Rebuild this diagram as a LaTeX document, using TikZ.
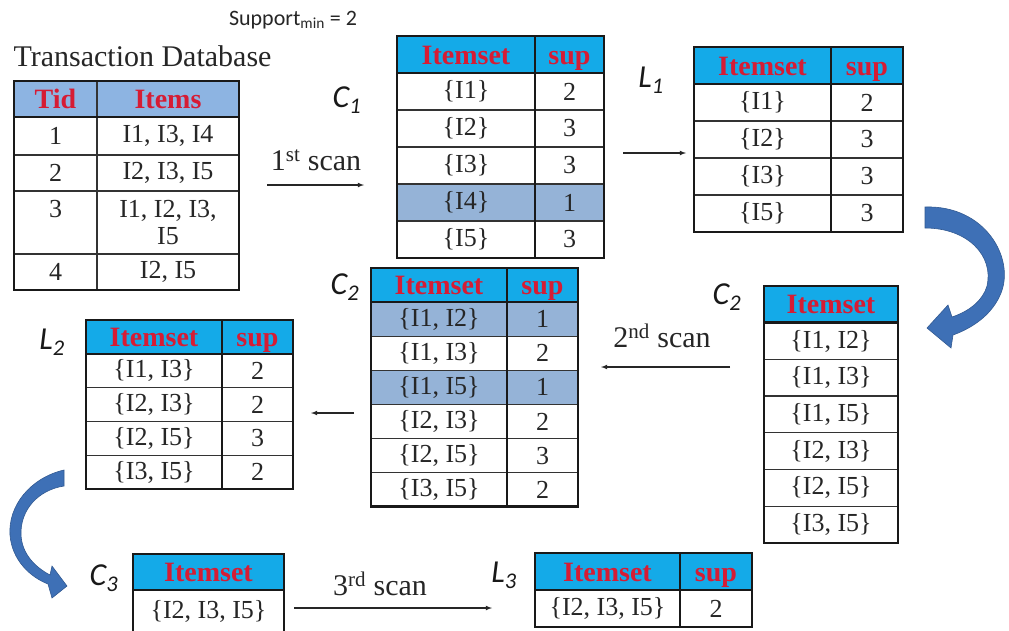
\documentclass[tikz,border=0pt]{standalone}
\usepackage{fontspec}
\setmainfont{Liberation Serif}
\newfontfamily\calibri{Carlito}
\usepackage{tikz}
\usepackage{xcolor}

\definecolor{dbblue}{RGB}{141,180,226}
\definecolor{hdrcyan}{RGB}{20,170,232}
\definecolor{hdrred}{RGB}{214,28,52}
\definecolor{hlblue}{RGB}{149,179,215}
\definecolor{bendblue}{RGB}{62,112,182}
\newcommand\cellfont{\fontsize{26}{27}\selectfont}
\newcommand\headfont{\fontsize{28}{30}\selectfont\bfseries}
\newcommand\labfont{\calibri\itshape\fontsize{32}{34}\selectfont}
\newcommand\scanfont{\fontsize{30}{32}\selectfont}

\begin{document}
\begin{tikzpicture}[x=1pt, y=-1pt,
    cell/.style={draw=black!80, line width=1.3pt, anchor=north west, outer sep=0pt,
      inner sep=0pt, align=center, font=\cellfont, text=black!85},
    head/.style={cell, fill=hdrcyan, font=\headfont, text=hdrred, text height=23pt, text depth=4pt},
    dbhead/.style={head, fill=dbblue},
    hl/.style={fill=hlblue},
    frame/.style={draw=black!90, line width=2.6pt},
    lab/.style={font=\labfont, text=black!90},
    scan/.style={font=\scanfont, text=black!85},
    arr/.style={-latex, line width=1.1pt, black!85},
    bendarrow/.style={fill=bendblue, draw=bendblue!80!black, line width=0.6pt}]
    \useasboundingbox[fill=white] (0,0) rectangle (1009,630);

    % titles
    \node[font=\calibri\fontsize{22}{24}\selectfont, text=black!85] (supp) at (293,20) {Support\textsubscript{min} = 2};
    \node[font=\fontsize{30}{32}\selectfont, text=black!85, anchor=west] (title) at (10,56) {Transaction Database};

    % transaction database
    \node[dbhead, minimum width=83, minimum height=36] (dbh1) at (14,81) {Tid};
    \node[dbhead, minimum width=142, minimum height=36] (dbh2) at (97,81) {Items};
    \node[cell, minimum width=83, minimum height=38] (db11) at (14,117) {1};
    \node[cell, minimum width=142, minimum height=38] (db12) at (97,117) {I1, I3, I4};
    \node[cell, minimum width=83, minimum height=36] (db21) at (14,155) {2};
    \node[cell, minimum width=142, minimum height=36] (db22) at (97,155) {I2, I3, I5};
    \node[cell, minimum width=83, minimum height=63] (db31) at (14,191) {3\\\phantom{3}};
    \node[cell, minimum width=142, minimum height=63] (db32) at (97,191) {I1, I2, I3,\\I5};
    \node[cell, minimum width=83, minimum height=36] (db41) at (14,254) {4};
    \node[cell, minimum width=142, minimum height=36] (db42) at (97,254) {I2, I5};
    \draw[frame] (dbh1.north west) rectangle (db42.south east);
    \draw[frame] (dbh1.south west) -- (dbh2.south east);

    % C1
    \node[head, minimum width=138, minimum height=37] (ca1) at (397,36) {Itemset};
    \node[head, minimum width=69, minimum height=37] (ca2) at (535,36) {sup};
    \node[cell, minimum width=138, minimum height=37] (ca11) at (397,73) {\{I1\}};
    \node[cell, minimum width=69, minimum height=37] (ca12) at (535,73) {2};
    \node[cell, minimum width=138, minimum height=37] (ca21) at (397,110) {\{I2\}};
    \node[cell, minimum width=69, minimum height=37] (ca22) at (535,110) {3};
    \node[cell, minimum width=138, minimum height=37] (ca31) at (397,147) {\{I3\}};
    \node[cell, minimum width=69, minimum height=37] (ca32) at (535,147) {3};
    \node[cell, hl, minimum width=138, minimum height=37] (ca41) at (397,184) {\{I4\}};
    \node[cell, hl, minimum width=69, minimum height=37] (ca42) at (535,184) {1};
    \node[cell, minimum width=138, minimum height=37] (ca51) at (397,221) {\{I5\}};
    \node[cell, minimum width=69, minimum height=37] (ca52) at (535,221) {3};
    \draw[frame] (ca1.north west) rectangle (ca52.south east);
    \draw[frame] (ca1.south west) -- (ca2.south east);
    \draw[frame] (ca2.north west) -- (ca52.south west);

    % L1
    \node[head, minimum width=137, minimum height=37] (la1) at (694,47) {Itemset};
    \node[head, minimum width=72, minimum height=37] (la2) at (831,47) {sup};
    \node[cell, minimum width=137, minimum height=37] (la11) at (694,84) {\{I1\}};
    \node[cell, minimum width=72, minimum height=37] (la12) at (831,84) {2};
    \node[cell, minimum width=137, minimum height=37] (la21) at (694,121) {\{I2\}};
    \node[cell, minimum width=72, minimum height=37] (la22) at (831,121) {3};
    \node[cell, minimum width=137, minimum height=37] (la31) at (694,158) {\{I3\}};
    \node[cell, minimum width=72, minimum height=37] (la32) at (831,158) {3};
    \node[cell, minimum width=137, minimum height=37] (la41) at (694,195) {\{I5\}};
    \node[cell, minimum width=72, minimum height=37] (la42) at (831,195) {3};
    \draw[frame] (la1.north west) rectangle (la42.south east);
    \draw[frame] (la1.south west) -- (la2.south east);
    \draw[frame] (la2.north west) -- (la42.south west);

    % C2 (candidates only)
    \node[head, minimum width=134, minimum height=36.7] (cr1) at (764,286) {Itemset};
    \node[cell, minimum width=134, minimum height=36.7] (cr11) at (764,322.7) {\{I1, I2\}};
    \node[cell, minimum width=134, minimum height=36.7] (cr21) at (764,359.4) {\{I1, I3\}};
    \node[cell, minimum width=134, minimum height=36.7] (cr31) at (764,396.1) {\{I1, I5\}};
    \node[cell, minimum width=134, minimum height=36.7] (cr41) at (764,432.8) {\{I2, I3\}};
    \node[cell, minimum width=134, minimum height=36.7] (cr51) at (764,469.5) {\{I2, I5\}};
    \node[cell, minimum width=134, minimum height=36.7] (cr61) at (764,506.2) {\{I3, I5\}};
    \draw[frame] (cr1.north west) rectangle (cr61.south east);
    \draw[frame] (cr1.south west) -- (cr1.south east);

    % C2 with support
    \node[head, minimum width=136, minimum height=34.1] (cb1) at (371,268) {Itemset};
    \node[head, minimum width=71, minimum height=34.1] (cb2) at (507,268) {sup};
    \node[cell, hl, minimum width=136, minimum height=34.1] (cb11) at (371,302.1) {\{I1, I2\}};
    \node[cell, hl, minimum width=71, minimum height=34.1] (cb12) at (507,302.1) {1};
    \node[cell, minimum width=136, minimum height=34.1] (cb21) at (371,336.2) {\{I1, I3\}};
    \node[cell, minimum width=71, minimum height=34.1] (cb22) at (507,336.2) {2};
    \node[cell, hl, minimum width=136, minimum height=34.1] (cb31) at (371,370.3) {\{I1, I5\}};
    \node[cell, hl, minimum width=71, minimum height=34.1] (cb32) at (507,370.3) {1};
    \node[cell, minimum width=136, minimum height=34.1] (cb41) at (371,404.4) {\{I2, I3\}};
    \node[cell, minimum width=71, minimum height=34.1] (cb42) at (507,404.4) {2};
    \node[cell, minimum width=136, minimum height=34.1] (cb51) at (371,438.5) {\{I2, I5\}};
    \node[cell, minimum width=71, minimum height=34.1] (cb52) at (507,438.5) {3};
    \node[cell, minimum width=136, minimum height=34.1] (cb61) at (371,472.6) {\{I3, I5\}};
    \node[cell, minimum width=71, minimum height=34.1] (cb62) at (507,472.6) {2};
    \draw[frame] (cb1.north west) rectangle (cb62.south east);
    \draw[frame] (cb1.south west) -- (cb2.south east);
    \draw[frame] (cb2.north west) -- (cb62.south west);

    % L2
    \node[head, minimum width=136, minimum height=33.8] (lb1) at (86,320) {Itemset};
    \node[head, minimum width=71, minimum height=33.8] (lb2) at (222,320) {sup};
    \node[cell, minimum width=136, minimum height=33.8] (lb11) at (86,353.8) {\{I1, I3\}};
    \node[cell, minimum width=71, minimum height=33.8] (lb12) at (222,353.8) {2};
    \node[cell, minimum width=136, minimum height=33.8] (lb21) at (86,387.6) {\{I2, I3\}};
    \node[cell, minimum width=71, minimum height=33.8] (lb22) at (222,387.6) {2};
    \node[cell, minimum width=136, minimum height=33.8] (lb31) at (86,421.4) {\{I2, I5\}};
    \node[cell, minimum width=71, minimum height=33.8] (lb32) at (222,421.4) {3};
    \node[cell, minimum width=136, minimum height=33.8] (lb41) at (86,455.2) {\{I3, I5\}};
    \node[cell, minimum width=71, minimum height=33.8] (lb42) at (222,455.2) {2};
    \draw[frame] (lb1.north west) rectangle (lb42.south east);
    \draw[frame] (lb1.south west) -- (lb2.south east);
    \draw[frame] (lb2.north west) -- (lb42.south west);

    % C3
    \node[head, minimum width=151, minimum height=36] (cc1) at (133,554) {Itemset};
    \node[cell, minimum width=151, minimum height=42] (cc11) at (133,590) {\{I2, I3, I5\}};
    \draw[frame] (cc1.north west) rectangle (cc11.south east);
    \draw[frame] (cc1.south west) -- (cc1.south east);

    % L3
    \node[head, minimum width=145, minimum height=37] (lc1) at (535,553) {Itemset};
    \node[head, minimum width=72, minimum height=37] (lc2) at (680,553) {sup};
    \node[cell, minimum width=145, minimum height=37] (lc11) at (535,590) {\{I2, I3, I5\}};
    \node[cell, minimum width=72, minimum height=37] (lc12) at (680,590) {2};
    \draw[frame] (lc1.north west) rectangle (lc12.south east);
    \draw[frame] (lc1.south west) -- (lc2.south east);
    \draw[frame] (lc2.north west) -- (lc12.south west);

    % set names
    \node[lab] (nC1) at (347,100) {C\textsubscript{1}};
    \node[lab] (nL1) at (651,80) {L\textsubscript{1}};
    \node[lab] (nC2b) at (345,287) {C\textsubscript{2}};
    \node[lab] (nC2r) at (727,297) {C\textsubscript{2}};
    \node[lab] (nL2) at (52,342) {L\textsubscript{2}};
    \node[lab] (nC3) at (104,578) {C\textsubscript{3}};
    \node[lab] (nL3) at (504,575) {L\textsubscript{3}};

    % scans
    \node[scan] (scan1) at (316,160) {1\textsuperscript{st} scan};
    \node[scan] (scan2) at (662,336) {2\textsuperscript{nd} scan};
    \node[scan] (scan3) at (380,584) {3\textsuperscript{rd} scan};
    \coordinate (a1) at (267,185); \coordinate (b1) at (364,185);
    \coordinate (a2) at (623,153); \coordinate (b2) at (686,153);
    \coordinate (a3) at (730,367); \coordinate (b3) at (601,367);
    \coordinate (a4) at (354,413); \coordinate (b4) at (311,413);
    \coordinate (a5) at (294,608); \coordinate (b5) at (492,608);
    \draw[arr] (a1) -- (b1);
    \draw[arr] (a2) -- (b2);
    \draw[arr] (a3) -- (b3);
    \draw[arr] (a4) -- (b4);
    \draw[arr] (a5) -- (b5);

    % curved block arrows
    \draw[bendarrow] (925,207) .. controls (985,205) and (1015,258) .. (1001,293)
      .. controls (993,313) and (975,327) .. (953,335) -- (951,348) -- (927,328)
      -- (948,305) -- (952,317) .. controls (970,311) and (983,300) .. (987,286)
      .. controls (994,256) and (968,228) .. (925,228) -- cycle;
    \draw[bendarrow] (64,470) .. controls (30,478) and (8,506) .. (10,535)
      .. controls (12,560) and (30,577) .. (48,584) -- (52,598) -- (67,586)
      -- (52,566) -- (50,575) .. controls (35,567) and (22,554) .. (21,535)
      .. controls (20,510) and (38,490) .. (64,486) -- cycle;
\end{tikzpicture}
\end{document}
